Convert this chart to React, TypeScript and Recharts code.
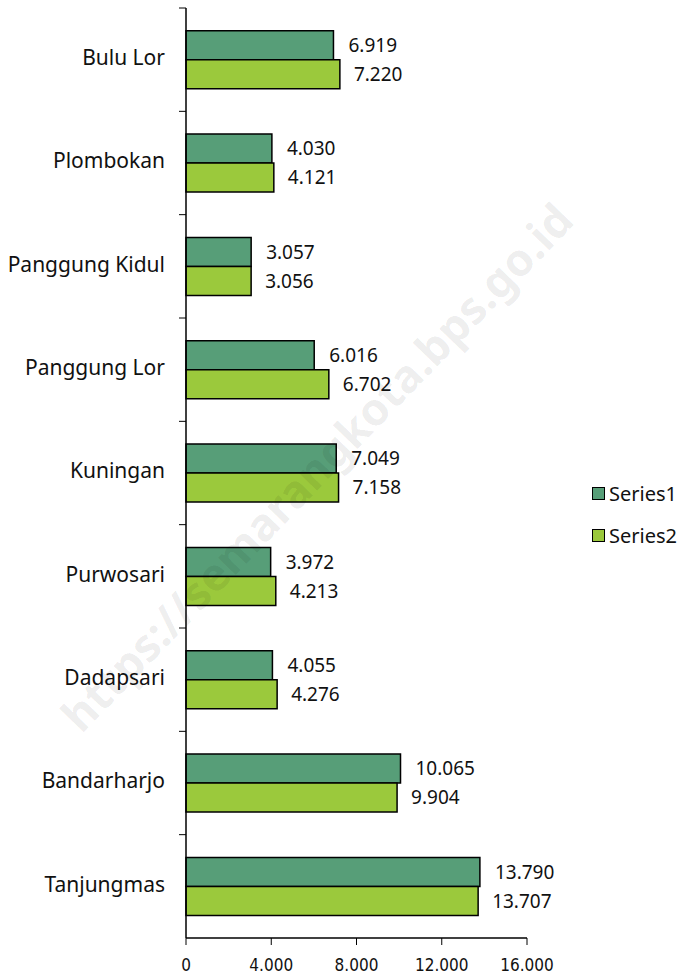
import React from 'react';
import { BarChart, Bar, XAxis, YAxis, LabelList } from 'recharts';

const categories = ['Bulu Lor', 'Plombokan', 'Panggung Kidul', 'Panggung Lor', 'Kuningan', 'Purwosari', 'Dadapsari', 'Bandarharjo', 'Tanjungmas'];
const series1 = [6919, 4030, 3057, 6016, 7049, 3972, 4055, 10065, 13790];
const series2 = [7220, 4121, 3056, 6702, 7158, 4213, 4276, 9904, 13707];
const xTicks = [0, 4000, 8000, 12000, 16000];

const data = categories.map((name, i) => ({ name, s1: series1[i], s2: series2[i] }));

const fmt = (v: number) => v.toLocaleString('de-DE');

const FONT = '"Noto Sans", "Open Sans", sans-serif';
const NARROW = '"Liberation Sans Narrow", "DejaVu Sans Condensed", sans-serif';

const PLOT_TOP = 8;
const PLOT_BOTTOM = 938;
const BAND = (PLOT_BOTTOM - PLOT_TOP) / categories.length;

// category label plus a tick at the top edge of each band
const CategoryTick = (props: any) => {
  const { y, payload } = props;
  const top = y - BAND / 2;
  return (
    <g>
      <line x1={179} x2={186} y1={top} y2={top} stroke="#000" strokeWidth={1} />
      <text x={165} y={y - 2} dy="0.35em" textAnchor="end" fontFamily={FONT} fontSize={21} fill="#111">
        {payload.value}
      </text>
    </g>
  );
};

const legendItems = [
  { label: 'Series1', color: '#579e78' },
  { label: 'Series2', color: '#9bc93c' },
];

export default function App() {
  return (
    <div style={{ position: 'absolute', left: 0, top: 0, width: 685, height: 978, background: '#fff' }}>
      <BarChart
        width={685}
        height={978}
        data={data}
        layout="vertical"
        margin={{ top: PLOT_TOP, right: 158, bottom: 0, left: 0 }}
        barCategoryGap="22%"
        barGap={0}
      >
        <XAxis
          type="number"
          domain={[0, 16000]}
          ticks={xTicks}
          tickFormatter={fmt}
          height={40}
          tickSize={7}
          tickMargin={14}
          axisLine={{ stroke: '#000', strokeWidth: 1.5 }}
          tickLine={{ stroke: '#000' }}
          tick={{ fill: '#111', fontFamily: NARROW, fontSize: 17 }}
        />
        <YAxis
          type="category"
          dataKey="name"
          width={186}
          axisLine={{ stroke: '#000', strokeWidth: 1.5 }}
          tickLine={false}
          tick={<CategoryTick />}
          interval={0}
        />
        <Bar dataKey="s1" name="Series1" fill="#579e78" stroke="#000" strokeWidth={1.5} isAnimationActive={false}>
          <LabelList dataKey="s1" position="right" offset={15} formatter={(v: any) => fmt(v)} fill="#111" fontFamily={FONT} fontSize={19} />
        </Bar>
        <Bar dataKey="s2" name="Series2" fill="#9bc93c" stroke="#000" strokeWidth={1.5} isAnimationActive={false}>
          <LabelList dataKey="s2" position="right" offset={14} formatter={(v: any) => fmt(v)} fill="#111" fontFamily={FONT} fontSize={19} />
        </Bar>
      </BarChart>
      <div style={{ position: 'absolute', left: 592, top: 472, fontFamily: FONT, fontSize: 20, color: '#111' }}>
        {legendItems.map((it) => (
          <div key={it.label} style={{ display: 'flex', alignItems: 'center', height: 42 }}>
            <span style={{ width: 11, height: 11, background: it.color, border: '1.5px solid #000', marginRight: 4 }} />
            <span>{it.label}</span>
          </div>
        ))}
      </div>
      <svg width={685} height={978} style={{ position: 'absolute', left: 0, top: 0, pointerEvents: 'none' }}>
        <text
          x={320}
          y={470}
          textAnchor="middle"
          dominantBaseline="middle"
          transform="rotate(-46 320 470)"
          fontFamily={FONT}
          fontWeight="bold"
          fontSize={45}
          fill="rgba(0,0,0,0.08)"
        >
          https://semarangkota.bps.go.id
        </text>
      </svg>
    </div>
  );
}
